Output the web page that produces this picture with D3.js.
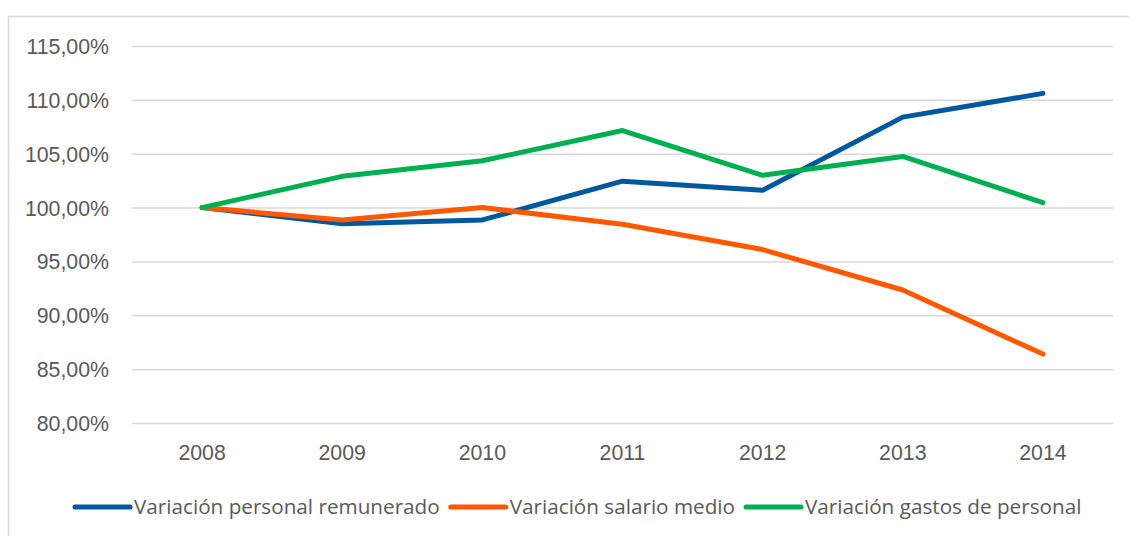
<!DOCTYPE html>
<html>
<head>
<meta charset="utf-8">
<script src="https://cdn.jsdelivr.net/npm/d3@7"></script>
<style>
    body { margin: 0; background: #fff; }
    svg { display: block; font-family: "Open Sans", sans-serif; }
    .tick text { fill: #595959; }
</style>
</head>
<body>
<div class="chart"></div>
<script>
const years = ["2008", "2009", "2010", "2011", "2012", "2013", "2014"];
const personalRemunerado = [100.0, 98.5, 98.85, 102.45, 101.6, 108.4, 110.6];
const salarioMedio = [100.0, 98.85, 100.0, 98.45, 96.1, 92.35, 86.4];
const gastosPersonal = [100.0, 102.9, 104.35, 107.15, 103.0, 104.75, 100.45];
const yTicks = [80, 85, 90, 95, 100, 105, 110, 115];

const series = [
    { name: "Variación personal remunerado", values: personalRemunerado, color: "#0058A0" },
    { name: "Variación salario medio", values: salarioMedio, color: "#FF5800" },
    { name: "Variación gastos de personal", values: gastosPersonal, color: "#00B050" }
];

const width = 1129;
const height = 536;
const plot = { left: 132, right: 1113, top: 46, bottom: 423 };

const svg = d3.select(".chart").append("svg")
    .attr("width", width)
    .attr("height", height);

// chart border (runs off the right and bottom edges)
svg.append("rect")
    .attr("x", 8.5)
    .attr("y", 16.5)
    .attr("width", 1130)
    .attr("height", 530)
    .style("fill", "none")
    .style("stroke", "#d9d9d9")
    .style("stroke-width", 1.5);

const x = d3.scaleBand()
    .domain(years)
    .range([plot.left, plot.right]);

const y = d3.scaleLinear()
    .domain([80, 115])
    .range([plot.bottom, plot.top]);

const fmt = (d) => d3.format(".2f")(d).replace(".", ",") + "%";

// y axis with gridlines
const yAxis = svg.append("g")
    .attr("class", "y-axis")
    .attr("transform", `translate(${plot.left},0)`)
    .call(d3.axisLeft(y).tickValues(yTicks).tickFormat(fmt)
        .tickSize(-(plot.right - plot.left)).tickPadding(23));
yAxis.select(".domain").remove();
yAxis.selectAll(".tick line")
    .style("stroke", "#d9d9d9")
    .style("stroke-width", 1.5);
yAxis.selectAll(".tick text")
    .style("font-size", "21.3px")
    .attr("dy", ".35em");

// x axis
const xAxis = svg.append("g")
    .attr("class", "x-axis")
    .attr("transform", `translate(0,${plot.bottom})`)
    .call(d3.axisBottom(x).tickSize(0).tickPadding(22));
xAxis.select(".domain").remove();
xAxis.selectAll(".tick text")
    .style("font-size", "21.3px");

const line = d3.line()
    .x((d, i) => x(years[i]) + x.bandwidth() / 2)
    .y((d) => y(d));

svg.selectAll(".line")
    .data(series)
    .enter()
    .append("path")
    .attr("class", "line")
    .attr("d", (d) => line(d.values))
    .style("fill", "none")
    .style("stroke", (d) => d.color)
    .style("stroke-width", 5)
    .style("stroke-linecap", "round")
    .style("stroke-linejoin", "round");

// legend, items laid out one after another
const legendY = 507;
const swatch = 55;
let legendX = 75;

const item = svg.selectAll(".legend-item")
    .data(series)
    .enter()
    .append("g")
    .attr("class", "legend-item");

item.append("line")
    .attr("x1", 0)
    .attr("x2", swatch)
    .style("stroke", (d) => d.color)
    .style("stroke-width", 5)
    .style("stroke-linecap", "round");

item.append("text")
    .attr("x", swatch + 4)
    .attr("dy", ".35em")
    .style("font-size", "20.7px")
    .style("fill", "#595959")
    .text((d) => d.name);

item.each(function() {
    d3.select(this).attr("transform", `translate(${legendX},${legendY})`);
    const w = d3.select(this).select("text").node().getComputedTextLength();
    legendX += swatch + 4 + w + 11;
});
</script>
</body>
</html>
